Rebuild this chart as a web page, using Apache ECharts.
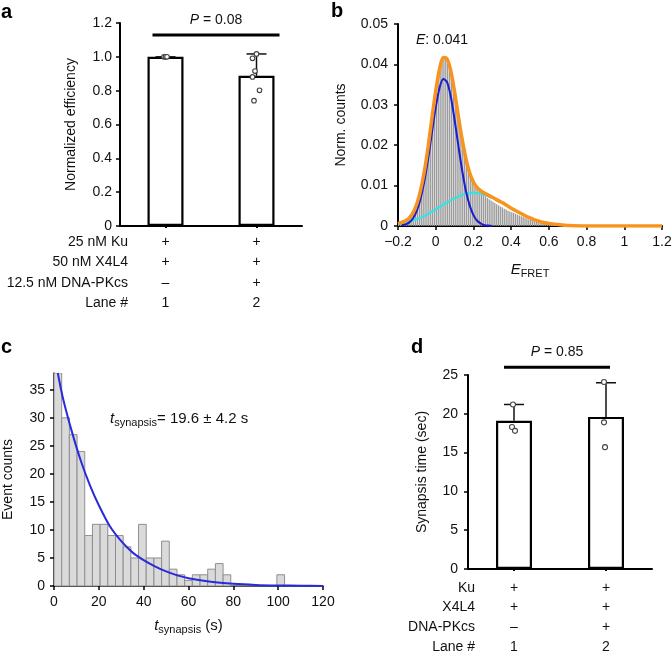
<!DOCTYPE html>
<html>
<head>
<meta charset="utf-8">
<script src="https://cdn.jsdelivr.net/npm/echarts@6/dist/echarts.min.js"></script>
<style>
html, body { margin: 0; padding: 0; background: #fff; }
#figure { width: 672px; height: 652px; }
</style>
</head>
<body>
<div id="figure"></div>
<script>
// ---- panel a : normalized efficiency ----
var lanesA = ['1', '2'];
var effMean = [1.0, 0.888];
var effErrTop = [1.0, 1.017];
var effDots = [[1.0, 1.0, 1.0], [1.017, 0.991, 0.916, 0.881, 0.802, 0.741]];
var effJitter = [[-1.5, 0, 1.5], [0, -4, -1.5, -4, 3, -2.5]];
var rowLabelsA = ['25 nM Ku', '50 nM X4L4', '12.5 nM DNA-PKcs', 'Lane #'];
var kuA = ['+', '+'];
var x4l4A = ['+', '+'];
var pkcsA = ['–', '+'];
var sigA = { y: 1.129, p: '0.08' };

// ---- panel b : FRET histogram + fits ----
var fretHistStart = -0.2;
var fretBin = 0.01;
var fretHist = [
  0.0005, 0.0007, 0.0008, 0.0010, 0.0012, 0.0016, 0.0019, 0.0025, 0.0032, 0.0042,
  0.0054, 0.0070, 0.0088, 0.0110, 0.0134, 0.0164, 0.0196, 0.0230, 0.0265, 0.0300,
  0.0332, 0.0362, 0.0386, 0.0404, 0.0415, 0.0418, 0.0412, 0.0400, 0.0382, 0.0358,
  0.0330, 0.0300, 0.0270, 0.0242, 0.0214, 0.0190, 0.0166, 0.0148, 0.0131, 0.0118,
  0.0107, 0.0100, 0.0093, 0.0088, 0.0083, 0.0078, 0.0073, 0.0069, 0.0066, 0.0063,
  0.0060, 0.0057, 0.0054, 0.0051, 0.0048, 0.0046, 0.0043, 0.0041, 0.0038, 0.0036,
  0.0034, 0.0032, 0.0030, 0.0028, 0.0026, 0.0024, 0.0022, 0.0020, 0.0018, 0.0016,
  0.0015, 0.0013, 0.0012, 0.0010, 0.0009, 0.0008, 0.0007, 0.0006, 0.0005, 0.0005,
  0.0004, 0.0004, 0.0003, 0.0003, 0.0002, 0.0002, 0.0002, 0.0001, 0.0001, 0.0001,
  0.0001
];
var fretX = [-0.2, -0.18, -0.16, -0.14, -0.12, -0.1, -0.08, -0.06, -0.04, -0.02,
  0, 0.02, 0.04, 0.06, 0.08, 0.1, 0.12, 0.14, 0.16, 0.18,
  0.2, 0.22, 0.24, 0.26, 0.28, 0.3, 0.32, 0.34, 0.36, 0.38,
  0.4, 0.42, 0.44, 0.46, 0.48, 0.5, 0.52, 0.54, 0.56, 0.58,
  0.6, 0.62, 0.64, 0.66, 0.68, 0.7, 0.8, 1.0, 1.2];
var fitTotal = [0.0006, 0.0009, 0.0013, 0.0020, 0.0033, 0.0055, 0.0089, 0.0136, 0.0197, 0.0267,
  0.0334, 0.0388, 0.0417, 0.0414, 0.0384, 0.0332, 0.0272, 0.0215, 0.0167, 0.0132,
  0.0109, 0.0095, 0.0087, 0.0081, 0.0076, 0.0071, 0.0066, 0.0061, 0.0056, 0.0050,
  0.0044, 0.0039, 0.0034, 0.0029, 0.0024, 0.0020, 0.0016, 0.0013, 0.0010, 0.0008,
  0.0006, 0.0005, 0.0004, 0.0003, 0.0002, 0.0001, 0, 0, 0];
var fitLow = [null, 0.0002, 0.0004, 0.0009, 0.0019, 0.0038, 0.0068, 0.0111, 0.0167, 0.0231,
  0.0293, 0.0341, 0.0364, 0.0356, 0.0320, 0.0263, 0.0199, 0.0138, 0.0087, 0.0051,
  0.0027, 0.0013, 0.0006, 0.0002, 0.0001, 0, null, null, null, null,
  null, null, null, null, null, null, null, null, null, null,
  null, null, null, null, null, null, null, null, null];
var fitHigh = [0.0005, 0.0007, 0.0009, 0.0011, 0.0014, 0.0017, 0.0021, 0.0025, 0.0030, 0.0036,
  0.0041, 0.0047, 0.0053, 0.0058, 0.0064, 0.0069, 0.0073, 0.0077, 0.0080, 0.0081,
  0.0082, 0.0081, 0.0080, 0.0077, 0.0073, 0.0069, null, null, null, null,
  null, null, null, null, null, null, null, null, null, null,
  null, null, null, null, null, null, null, null, null];

// ---- panel c : synapsis time histogram ----
var synBin = 120 / 35;
var synCounts = [38, 30, 27, 24, 9, 11, 11, 9, 9, 7, 5, 11, 5, 5, 8, 3, 2, 1, 2, 2, 3, 4, 2, 0, 0, 0, 0, 0, 0, 2];
var synFitT = [1.7, 4, 8, 12, 16, 20, 25, 30, 35, 40, 45, 50, 55, 60, 70, 80, 90, 100, 110, 120];
var synFit = [38, 33.5, 27.5, 22.3, 18, 14.4, 10.6, 8, 6, 4.6, 3.5, 2.6, 1.9, 1.4, 0.75, 0.4, 0.2, 0.1, 0.05, 0.02];

// ---- panel d : synapsis time bars ----
var lanesD = ['1', '2'];
var synMean = [19.1, 19.6];
var synErrTop = [21.2, 24.0];
var synDots = [[21.2, 18.3, 17.8], [24.1, 18.9, 15.7]];
var synJitter = [[-1, -2, 1], [-2, -2, -1]];
var rowLabelsD = ['Ku', 'X4L4', 'DNA-PKcs', 'Lane #'];
var kuD = ['+', '+'];
var x4l4D = ['+', '+'];
var pkcsD = ['–', '+'];
var sigD = { y: 26.0, p: '0.85' };

var FONT = "'Liberation Sans', Arial, Helvetica, sans-serif";
var INK = '#111';

var GA = { left: 120, top: 23, width: 182, height: 203 };
var GB = { left: 398, top: 24, width: 264, height: 202 };
var GC = { left: 54, top: 373, width: 269, height: 213 };
var GD = { left: 468, top: 375, width: 184, height: 194 };
var rowA = { margin: 6, lh: 20.3 };
var rowD = { margin: 9, lh: 19.7 };

function grid(g) {
  return { left: g.left, top: g.top, width: g.width, height: g.height, outerBoundsMode: 'none', containLabel: false };
}

function axisLine(w, c) {
  return { show: true, onZero: false, lineStyle: { color: c || '#000', width: w } };
}

function tableXAxis(gi, cats, rows, r) {
  return {
    gridIndex: gi, type: 'category', data: cats,
    axisLine: axisLine(2),
    axisTick: { show: true, alignWithLabel: true, length: 2, lineStyle: { color: '#000', width: 2 } },
    axisLabel: {
      margin: r.margin, lineHeight: r.lh, fontSize: 14, color: INK, fontFamily: FONT,
      formatter: function (v, i) {
        return rows.map(function (row) { return row[i]; }).concat([cats[i]]).join('\n');
      }
    },
    splitLine: { show: false }
  };
}

function rowLabelGraphics(g, labels, r, right) {
  var base = g.top + g.height + r.margin;
  return labels.map(function (t, i) {
    return {
      type: 'text', x: right, y: base + r.lh * (i + 0.5),
      style: { text: t, align: 'right', verticalAlign: 'middle', fontSize: 14, fontFamily: FONT, fill: INK }
    };
  });
}

function errorBarSeries(xi, means, tops) {
  return {
    type: 'custom', xAxisIndex: xi, yAxisIndex: xi, z: 5,
    data: means.map(function (m, i) { return [i, m, tops[i]]; }),
    renderItem: function (params, api) {
      var lo = api.coord([api.value(0), api.value(1)]);
      var hi = api.coord([api.value(0), api.value(2)]);
      var st = { stroke: '#111', lineWidth: 1.5 };
      return { type: 'group', children: [
        { type: 'line', shape: { x1: lo[0], y1: lo[1], x2: hi[0], y2: hi[1] }, style: st },
        { type: 'line', shape: { x1: hi[0] - 10, y1: hi[1], x2: hi[0] + 10, y2: hi[1] }, style: st }
      ] };
    }
  };
}

function dotSeries(xi, dots, jitter, r) {
  var data = [];
  dots.forEach(function (vals, c) {
    vals.forEach(function (v, k) { data.push([c, v, jitter[c][k]]); });
  });
  return {
    type: 'custom', xAxisIndex: xi, yAxisIndex: xi, z: 6, data: data,
    renderItem: function (params, api) {
      var p = api.coord([api.value(0), api.value(1)]);
      return { type: 'circle', shape: { cx: p[0] + api.value(2), cy: p[1], r: r },
        style: { fill: '#fff', stroke: '#444', lineWidth: 1.1 } };
    }
  };
}

function sigSeries(xi, sig, padL, padR) {
  return {
    type: 'custom', xAxisIndex: xi, yAxisIndex: xi, z: 6,
    data: [[0, sig.y]],
    renderItem: function (params, api) {
      var a = api.coord([0, api.value(1)]);
      var b = api.coord([1, api.value(1)]);
      var x1 = a[0] - padL, x2 = b[0] + padR;
      return { type: 'group', children: [
        { type: 'line', shape: { x1: x1, y1: a[1], x2: x2, y2: a[1] }, style: { stroke: '#000', lineWidth: 3 } },
        { type: 'text', x: (x1 + x2) / 2, y: a[1] - 15, style: {
          text: '{i|P} = ' + sig.p, align: 'center', verticalAlign: 'middle',
          fontSize: 14, fontFamily: FONT, fill: INK,
          rich: { i: { fontStyle: 'italic', fontSize: 14, fontFamily: FONT, fill: INK } }
        } }
      ] };
    }
  };
}

function barSeries(xi, vals) {
  return {
    type: 'bar', xAxisIndex: xi, yAxisIndex: xi, data: vals, barWidth: 36, z: 3,
    itemStyle: { color: '#fff', borderColor: '#000', borderWidth: 2.2 }
  };
}

function histSeries(xi, start, bin, vals, style, gap) {
  return {
    type: 'custom', xAxisIndex: xi, yAxisIndex: xi, z: 2, clip: true,
    data: vals.map(function (v, i) { return [start + i * bin, v]; }),
    renderItem: function (params, api) {
      var x0 = api.value(0);
      var p0 = api.coord([x0, 0]);
      var p1 = api.coord([x0 + bin, api.value(1)]);
      return { type: 'rect', shape: { x: p0[0], y: p1[1], width: p1[0] - p0[0] - gap, height: p0[1] - p1[1] }, style: style };
    }
  };
}

function curve(xi, xs, ys, color, w, z) {
  return {
    type: 'line', xAxisIndex: xi, yAxisIndex: xi, z: z, showSymbol: false, smooth: 0.3,
    data: xs.map(function (x, i) { return [x, ys[i]]; }),
    lineStyle: { color: color, width: w }, silent: true
  };
}

function valueAxis(gi, opt) {
  var base = {
    gridIndex: gi, type: 'value',
    nameLocation: 'middle', nameMoveOverlap: false,
    nameTextStyle: { fontSize: 14, color: INK, fontFamily: FONT },
    axisLine: axisLine(2),
    axisTick: { show: true, length: 4, lineStyle: { color: '#000', width: 1.5 } },
    axisLabel: { fontSize: 14, color: INK, fontFamily: FONT },
    splitLine: { show: false }
  };
  for (var k in opt) {
    if (typeof opt[k] === 'object' && base[k] && !Array.isArray(opt[k])) {
      base[k] = Object.assign({}, base[k], opt[k]);
    } else {
      base[k] = opt[k];
    }
  }
  return base;
}

var subRich = {
  i: { fontStyle: 'italic', fontSize: 15, fontFamily: FONT, color: INK },
  s: { fontSize: 11, fontFamily: FONT, color: INK, padding: [8, 0, 0, 0] },
  n: { fontSize: 15, fontFamily: FONT, color: INK }
};

var option = {
  animation: false,
  backgroundColor: '#fff',
  textStyle: { fontFamily: FONT, color: INK },
  grid: [grid(GA), grid(GB), grid(GC), grid(GD)],
  xAxis: [
    tableXAxis(0, lanesA, [kuA, x4l4A, pkcsA], rowA),
    valueAxis(1, {
      min: -0.2, max: 1.2, interval: 0.2,
      name: '{i|E}{s|FRET}', nameGap: 34,
      nameTextStyle: { rich: subRich },
      axisLabel: { margin: 9, formatter: function (v) {
        var s = String(+v.toFixed(1));
        return s.replace('-', '−');
      } }
    }),
    valueAxis(2, {
      min: 0, max: 120, interval: 20,
      name: '{i|t}{s|synapsis}{n| (s)}', nameGap: 30,
      nameTextStyle: { rich: subRich },
      axisLine: axisLine(1.5, '#222'),
      axisLabel: { margin: 9 }
    }),
    tableXAxis(3, lanesD, [kuD, x4l4D, pkcsD], rowD)
  ],
  yAxis: [
    valueAxis(0, {
      min: 0, max: 1.2, interval: 0.2, name: 'Normalized efficiency', nameGap: 42,
      axisLabel: { margin: 8, formatter: function (v) { return v === 0 ? '0' : v.toFixed(1); } }
    }),
    valueAxis(1, {
      min: 0, max: 0.05, interval: 0.01, name: 'Norm. counts', nameGap: 50,
      axisLabel: { margin: 10, formatter: function (v) { return String(+v.toFixed(2)); } }
    }),
    valueAxis(2, {
      min: 0, max: 38, name: 'Event counts', nameGap: 39,
      axisLine: axisLine(1.5, '#222'),
      axisTick: { customValues: [0, 5, 10, 15, 20, 25, 30, 35] },
      axisLabel: { margin: 9, customValues: [0, 5, 10, 15, 20, 25, 30, 35] }
    }),
    valueAxis(3, {
      min: 0, max: 25, interval: 5, name: 'Synapsis time (sec)', nameGap: 39,
      axisLabel: { margin: 10 }
    })
  ],
  graphic: [
    { type: 'text', x: 1, y: 2, style: { text: 'a', fontSize: 20, fontWeight: 'bold', fontFamily: FONT, fill: '#000' } },
    { type: 'text', x: 331, y: 1, style: { text: 'b', fontSize: 20, fontWeight: 'bold', fontFamily: FONT, fill: '#000' } },
    { type: 'text', x: 1, y: 337, style: { text: 'c', fontSize: 20, fontWeight: 'bold', fontFamily: FONT, fill: '#000' } },
    { type: 'text', x: 411, y: 337, style: { text: 'd', fontSize: 20, fontWeight: 'bold', fontFamily: FONT, fill: '#000' } },
    { type: 'text', x: 442, y: 40, style: {
      text: '{i|E}: 0.041', align: 'center', verticalAlign: 'middle', fontSize: 14, fontFamily: FONT, fill: INK,
      rich: { i: { fontStyle: 'italic', fontSize: 14, fontFamily: FONT, fill: INK } } } },
    { type: 'text', x: 110, y: 419, style: {
      text: '{i|t}{s|synapsis}{n|= 19.6 ± 4.2 s}', align: 'left', verticalAlign: 'middle', fontFamily: FONT, fill: INK,
      rich: {
        i: { fontStyle: 'italic', fontSize: 15, fontFamily: FONT, fill: INK },
        s: { fontSize: 11, fontFamily: FONT, fill: INK, padding: [8, 0, 0, 0] },
        n: { fontSize: 15, fontFamily: FONT, fill: INK }
      } } }
  ].concat(rowLabelGraphics(GA, rowLabelsA, rowA, 128))
   .concat(rowLabelGraphics(GD, rowLabelsD, rowD, 475)),
  series: [
    // a
    barSeries(0, effMean),
    errorBarSeries(0, effMean, effErrTop),
    dotSeries(0, effDots, effJitter, 2.3),
    sigSeries(0, sigA, 13, 23),
    // b
    histSeries(1, fretHistStart, fretBin, fretHist, { fill: '#9a9a9a' }, 0.55),
    curve(1, fretX, fitHigh, '#36e2e2', 2.2, 4),
    curve(1, fretX, fitLow, '#1c1ccf', 2, 5),
    curve(1, fretX, fitTotal, '#f7931e', 3.5, 6),
    // c
    histSeries(2, 0, synBin, synCounts, { fill: '#dadada', stroke: '#8f8f8f', lineWidth: 1 }, 0),
    curve(2, synFitT, synFit, '#2a2ad8', 2, 5),
    // d
    barSeries(3, synMean),
    errorBarSeries(3, synMean, synErrTop),
    dotSeries(3, synDots, synJitter, 2.5),
    sigSeries(3, sigD, 10, 4)
  ]
};

var chart = echarts.init(document.getElementById('figure'));
chart.setOption(option);
</script>
</body>
</html>
